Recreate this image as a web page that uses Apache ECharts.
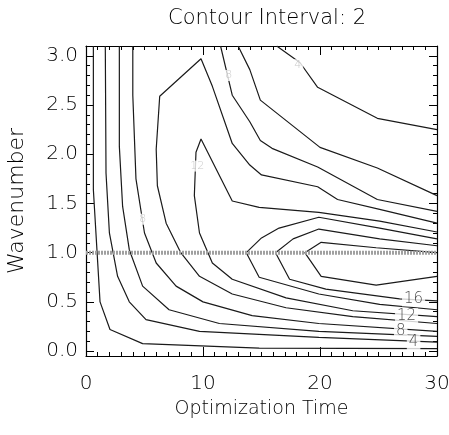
<!DOCTYPE html>
<html>
<head>
<meta charset="utf-8">
<script src="https://cdn.jsdelivr.net/npm/echarts@6/dist/echarts.min.js"></script>
<style>html,body{margin:0;padding:0;background:#fff}#c{width:449px;height:435px}</style>
</head>
<body>
<div id="c"></div>
<script>
// Axis ticks
const xTicks = [0, 10, 20, 30];
const yTicks = [0.0, 0.5, 1.0, 1.5, 2.0, 2.5, 3.0];
const yMinorTicks = [0.1,0.2,0.3,0.4,0.6,0.7,0.8,0.9,1.1,1.2,1.3,1.4,1.6,1.7,1.8,1.9,2.1,2.2,2.3,2.4,2.6,2.7,2.8,2.9];

// Contour lines (Optimization Time, Wavenumber)
const c2 = [[0.63,3.1],[0.63,1.64],[1.2,0.50],[2.05,0.22],[4.84,0.076],[14.8,0.03],[30,0.024]];
const c4 = [[1.65,3.1],[1.71,1.81],[2.0,1.20],[2.7,0.76],[3.7,0.50],[5.13,0.32],[9.7,0.20],[19.9,0.14],[30,0.09]];
const c6 = [[2.85,3.1],[2.85,2.08],[3.13,1.47],[3.7,1.03],[4.84,0.66],[7.1,0.42],[11.4,0.28],[19.9,0.20],[30,0.15]];
const c8 = [[4.0,3.1],[4.0,2.60],[4.27,1.75],[5.0,1.20],[6.0,0.895],[7.7,0.66],[10.0,0.50],[14.2,0.36],[19.9,0.28],[30,0.20]];
const c10 = [[30,1.30],[25.1,1.44],[21.5,1.54],[19.8,1.67],[15.0,1.79],[14.0,1.89],[12.5,2.11],[10.8,2.69],[9.83,2.97],[6.3,2.59],[6.0,2.05],[6.1,1.68],[6.85,1.30],[8.1,1.0],[9.7,0.76],[12.5,0.58],[17.1,0.44],[22.8,0.35],[30,0.28]];
const c12 = [[30,1.21],[25.1,1.32],[19.9,1.41],[14.8,1.46],[12.5,1.525],[9.83,2.155],[9.4,2.02],[9.26,1.58],[9.7,1.20],[10.8,0.895],[12.5,0.73],[17.1,0.54],[22.8,0.41],[30,0.35]];
const c14 = [[30,1.14],[25.1,1.25],[19.9,1.36],[16.5,1.25],[15.0,1.15],[13.7,1.0],[14.8,0.75],[19.9,0.58],[25.1,0.475],[30,0.42]];
const c16 = [[30,1.07],[25.1,1.14],[19.9,1.24],[17.7,1.14],[16.2,1.0],[17.4,0.73],[20.5,0.63],[26.8,0.53],[30,0.51]];
const c18 = [[30,1.0],[24.8,1.05],[20.1,1.105],[18.7,1.0],[20.1,0.76],[24.8,0.67],[30,0.76]];
const c4top = [[16.3,3.1],[18.3,2.93],[19.8,2.68],[24.9,2.365],[30,2.25]];
const c6top = [[13.0,3.1],[14.0,2.86],[14.9,2.55],[20.0,2.07],[24.9,1.86],[30,1.58]];
const c8top = [[11.5,3.1],[12.5,2.60],[14.0,2.33],[14.9,2.14],[15.9,2.06],[19.8,1.87],[24.9,1.54],[30,1.42]];
const contours = [c2, c4, c6, c8, c10, c12, c14, c16, c18, c4top, c6top, c8top];

// Highlighted wavenumber
const bandLine = [[0,1.0],[30,1.0]];

// Contour labels
const strongLabels = [{name:'16', value:[28.0,0.53]},{name:'12', value:[27.4,0.36]},{name:'8', value:[26.9,0.20]},{name:'4', value:[28.0,0.087]}];
const faintLabels = [{name:'4', value:[18.1,2.91]},{name:'8', value:[12.2,2.80]},{name:'8', value:[4.84,1.34]},{name:'12', value:[9.5,1.88]}];

const FONT = '"DejaVu Sans", Roboto, sans-serif';
const FW = 200;
const Y_MIN = -0.05, Y_MAX = 3.1;
const chart = echarts.init(document.getElementById('c'), null, {renderer:'canvas'});

const lineSeries = contours.map(d => ({
  type:'line', data:d, xAxisIndex:0, yAxisIndex:0, symbol:'none', showSymbol:false,
  lineStyle:{color:'#1a1a1a', width:1.2}, silent:true, z:2
}));

const axX = (pos, show) => ({
  type:'value', min:0, max:30, interval:10, position:pos,
  axisLine:{show:true, onZero:false, lineStyle:{color:'#000', width:1.2}},
  axisTick:{show:true, inside:true, length:9, lineStyle:{color:'#000'}},
  minorTick:{show:true, splitNumber:10, length:4, lineStyle:{color:'#000'}},
  splitLine:{show:false}, minorSplitLine:{show:false},
  axisLabel:{show:show, margin:18, fontSize:20, color:'#000', fontFamily:FONT, fontWeight:FW,
    formatter: v => xTicks.includes(v) ? String(v) : ''},
  name: show ? 'Optimization Time' : '', nameLocation:'middle', nameGap:44,
  nameTextStyle:{fontSize:19, color:'#000', fontFamily:FONT, fontWeight:FW}
});
const axYMajor = (pos, show) => ({
  type:'value', min:Y_MIN, max:Y_MAX, position:pos,
  axisLine:{show:true, onZero:false, lineStyle:{color:'#000', width:1.2}},
  axisTick:{show:true, inside:true, length:8, customValues:yTicks, lineStyle:{color:'#000'}},
  splitLine:{show:false},
  axisLabel:{show:show, margin:8, fontSize:20, color:'#000', fontFamily:FONT, fontWeight:FW,
    customValues:yTicks, formatter: v => v.toFixed(1)},
  name: show ? 'Wavenumber' : '', nameLocation:'middle', nameGap:58, nameRotate:90,
  nameTextStyle:{fontSize:22, color:'#000', fontFamily:FONT, fontWeight:FW}
});
const axYMinor = (pos) => ({
  type:'value', min:Y_MIN, max:Y_MAX, position:pos,
  axisLine:{show:false, onZero:false},
  axisTick:{show:true, inside:true, length:4, customValues:yMinorTicks, lineStyle:{color:'#000'}},
  splitLine:{show:false},
  axisLabel:{show:false}
});

const labelSeries = (data, size, color) => ({
  type:'scatter', data:data, symbolSize:2, itemStyle:{color:'rgba(0,0,0,0)'}, silent:true, z:6,
  label:{show:true, position:'inside', formatter:p => p.name, fontSize:size, fontFamily:FONT, fontWeight:FW,
    color:color, backgroundColor:'#fff', padding:[0,2]},
  labelLayout:{hideOverlap:false}
});

chart.setOption({
  animation:false,
  backgroundColor:'#fff',
  title:{text:'Contour Interval: 2', left:262, top:3, textAlign:'center',
    textStyle:{fontSize:21, fontWeight:FW, color:'#000', fontFamily:FONT}},
  grid:{left:86, right:12, top:46, bottom:79, containLabel:false, outerBoundsMode:'none'},
  xAxis:[axX('bottom', true), axX('top', false)],
  yAxis:[axYMajor('left', true), axYMinor('left'), axYMajor('right', false), axYMinor('right')],
  series:[
    ...lineSeries,
    {type:'line', data:bandLine, symbol:'none', silent:true, z:3,
     lineStyle:{color:'#a0a0a0', width:4, type:[2,1]}},
    labelSeries(strongLabels, 15, '#222'),
    labelSeries(faintLabels, 11, '#bbb')
  ]
});
</script>
</body>
</html>
